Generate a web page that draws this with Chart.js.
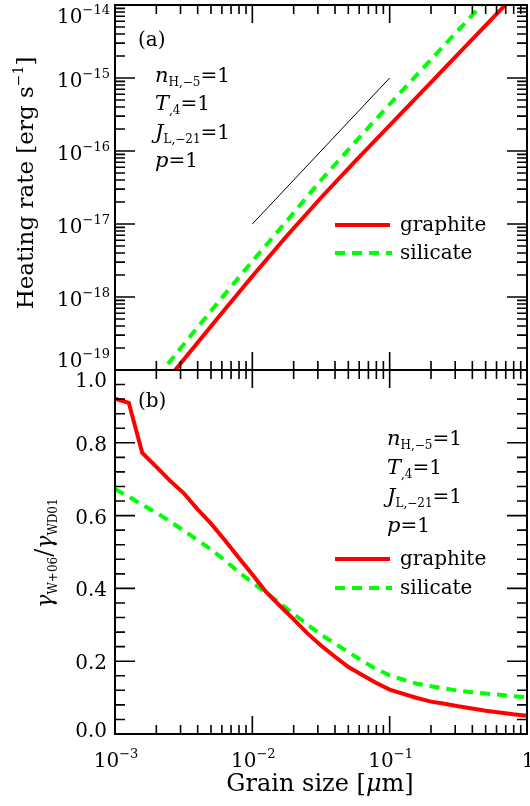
<!DOCTYPE html>
<html>
<head>
<meta charset="utf-8">
<script src="https://cdn.jsdelivr.net/npm/chart.js@4.4.1/dist/chart.umd.min.js"></script>
<style>
  html, body { margin: 0; padding: 0; background: #fff; }
  #wrap { position: relative; width: 530px; height: 806px; }
  #wrap canvas { position: absolute; left: 0; top: 0; }
</style>
</head>
<body>
<div id="wrap">
  <canvas id="panelA" width="530" height="806"></canvas>
  <canvas id="panelB" width="530" height="806"></canvas>
</div>
<script>
// panel (a): heating rate vs grain size [micron]
const sizesA = [0.001, 0.00178, 0.00316, 0.00562, 0.01, 0.0178, 0.0316, 0.0562, 0.1, 0.178, 0.316, 0.562, 1];
const heatGraphite = [9.55e-21, 3.72e-20, 1.38e-19, 5.19e-19, 1.93e-18, 6.84e-18, 2.29e-17, 7.24e-17,
  2.24e-16, 6.92e-16, 2.14e-15, 6.61e-15, 2.04e-14];
const heatSilicate = [1.48e-20, 5.82e-20, 2.24e-19, 8.41e-19, 3.09e-18, 1.10e-17, 3.98e-17, 1.33e-16,
  4.37e-16, 1.41e-15, 4.52e-15, 1.45e-14, 4.62e-14];
// thin a^2 guide line
const guideSizes = [0.01, 0.1];
const guideHeat = [1e-17, 1e-15];

// panel (b): gamma_W+06 / gamma_WD01
const sizesB = [0.001, 0.00126, 0.00158, 0.002, 0.00251, 0.00316, 0.00398, 0.00501, 0.00631, 0.00794,
  0.01, 0.0126, 0.0158, 0.02, 0.0251, 0.0316, 0.0398, 0.0501, 0.0631, 0.0794,
  0.1, 0.126, 0.158, 0.2, 0.251, 0.316, 0.398, 0.501, 0.631, 0.794, 1];
const ratioGraphite = [0.921, 0.910, 0.772, 0.734, 0.696, 0.662, 0.618, 0.578, 0.532, 0.485,
  0.438, 0.390, 0.353, 0.315, 0.277, 0.243, 0.213, 0.184, 0.162, 0.141,
  0.122, 0.110, 0.099, 0.089, 0.083, 0.076, 0.070, 0.064, 0.059, 0.054, 0.050];
const ratioSilicate = [0.673, 0.652, 0.630, 0.608, 0.584, 0.559, 0.533, 0.507, 0.477, 0.445,
  0.416, 0.388, 0.360, 0.330, 0.301, 0.273, 0.249, 0.225, 0.201, 0.179,
  0.161, 0.149, 0.138, 0.131, 0.125, 0.119, 0.115, 0.111, 0.108, 0.104, 0.101];

// ticks
const xDecades = [0.001, 0.01, 0.1, 1];
const xExps = [-3, -2, -1, 0];
const heatDecades = [1e-19, 1e-18, 1e-17, 1e-16, 1e-15, 1e-14];
const heatExps = [-19, -18, -17, -16, -15, -14];
const ratioMajor = [0, 0.2, 0.4, 0.6, 0.8, 1.0];
const ratioLabels = ['0.0', '0.2', '0.4', '0.6', '0.8', '1.0'];
const ratioMinor = [0.04, 0.08, 0.12, 0.16, 0.24, 0.28, 0.32, 0.36, 0.44, 0.48, 0.52, 0.56,
  0.64, 0.68, 0.72, 0.76, 0.84, 0.88, 0.92, 0.96];

const RED = '#ff0000';
const GREEN = '#00ff00';
const DASH = [10, 7];
const SERIF = '"DejaVu Serif", "Liberation Serif", serif';

const minorsOf = decades => decades.slice(0, -1).flatMap(d => [2, 3, 4, 5, 6, 7, 8, 9].map(m => m * d));

// text runs with sub/superscripts: parts = [{t, s, i, dy}]
function runWidth(ctx, parts) {
  let w = 0;
  parts.forEach(p => {
    ctx.font = (p.i ? 'italic ' : '') + p.s + 'px ' + SERIF;
    w += ctx.measureText(p.t).width;
  });
  return w;
}
function drawRun(ctx, parts, x, y) {
  ctx.textAlign = 'left';
  ctx.textBaseline = 'alphabetic';
  parts.forEach(p => {
    ctx.font = (p.i ? 'italic ' : '') + p.s + 'px ' + SERIF;
    ctx.fillText(p.t, x, y + (p.dy || 0));
    x += ctx.measureText(p.t).width;
  });
}
const pow10 = e => e === 0 ? [{ t: '1', s: 20 }] : [{ t: '10', s: 20 }, { t: '\u2212' + Math.abs(e), s: 13, dy: -9 }];

function tickLines(ctx, a, x, y, xMaj, xMin, yMaj, yMin) {
  ctx.strokeStyle = '#000';
  ctx.lineWidth = 1.6;
  ctx.beginPath();
  const xt = (v, len) => {
    const px = x.getPixelForValue(v);
    ctx.moveTo(px, a.top); ctx.lineTo(px, a.top + len);
    ctx.moveTo(px, a.bottom); ctx.lineTo(px, a.bottom - len);
  };
  const yt = (v, len) => {
    const py = y.getPixelForValue(v);
    ctx.moveTo(a.left, py); ctx.lineTo(a.left + len, py);
    ctx.moveTo(a.right, py); ctx.lineTo(a.right - len, py);
  };
  xMaj.forEach(v => xt(v, 18));
  xMin.forEach(v => xt(v, 9));
  yMaj.forEach(v => yt(v, 20));
  yMin.forEach(v => yt(v, 10));
  ctx.stroke();
  ctx.lineWidth = 2;
  ctx.strokeRect(a.left, a.top, a.right - a.left, a.bottom - a.top);
}

function notes(ctx, x, y0, step) {
  const lines = [
    [{ t: 'n', s: 21, i: true }, { t: 'H,\u22125', s: 12, dy: 4 }, { t: '=1', s: 20 }],
    [{ t: 'T', s: 21, i: true }, { t: ',4', s: 12, dy: 4 }, { t: '=1', s: 20 }],
    [{ t: 'J', s: 21, i: true }, { t: 'L,\u221221', s: 12, dy: 4 }, { t: '=1', s: 20 }],
    [{ t: 'p', s: 21, i: true }, { t: '=1', s: 20 }]
  ];
  lines.forEach((l, i) => drawRun(ctx, l, x, y0 + i * step));
}

function legend(ctx, y1, y2) {
  ctx.lineWidth = 4;
  ctx.strokeStyle = RED;
  ctx.setLineDash([]);
  ctx.beginPath(); ctx.moveTo(335, y1); ctx.lineTo(390, y1); ctx.stroke();
  ctx.strokeStyle = GREEN;
  ctx.setLineDash(DASH);
  ctx.beginPath(); ctx.moveTo(335, y2); ctx.lineTo(392, y2); ctx.stroke();
  ctx.setLineDash([]);
  drawRun(ctx, [{ t: 'graphite', s: 20 }], 400, y1 + 6);
  drawRun(ctx, [{ t: 'silicate', s: 20 }], 400, y2 + 6);
}

const decorA = {
  id: 'decorA',
  afterDraw(chart) {
    const { ctx, chartArea: a, scales: { x, y } } = chart;
    ctx.save();
    ctx.fillStyle = '#000';
    tickLines(ctx, a, x, y, xDecades, minorsOf(xDecades), heatDecades, minorsOf(heatDecades));
    // y tick labels
    heatDecades.forEach((v, i) => {
      const parts = pow10(heatExps[i]);
      const py = Math.min(Math.max(y.getPixelForValue(v) + 9, 23), 367);
      drawRun(ctx, parts, 110 - runWidth(ctx, parts), py);
    });
    // y title
    const title = [{ t: 'Heating rate [erg s', s: 23 }, { t: '\u22121', s: 14, dy: -10 }, { t: ']', s: 23 }];
    ctx.translate(33, 183);
    ctx.rotate(-Math.PI / 2);
    drawRun(ctx, title, -runWidth(ctx, title) / 2, 0);
    ctx.setTransform(1, 0, 0, 1, 0, 0);
    drawRun(ctx, [{ t: '(a)', s: 20 }], 138, 46);
    notes(ctx, 155, 82, 28.3);
    legend(ctx, 225, 253);
    ctx.restore();
  }
};

const decorB = {
  id: 'decorB',
  afterDraw(chart) {
    const { ctx, chartArea: a, scales: { x, y } } = chart;
    ctx.save();
    ctx.fillStyle = '#000';
    tickLines(ctx, a, x, y, xDecades, minorsOf(xDecades), ratioMajor, ratioMinor);
    ratioMajor.forEach((v, i) => {
      const py = Math.min(Math.max(y.getPixelForValue(v) + 8, 387), 737);
      const parts = [{ t: ratioLabels[i], s: 20 }];
      drawRun(ctx, parts, 107 - runWidth(ctx, parts), py);
    });
    xDecades.forEach((v, i) => {
      const parts = pow10(xExps[i]);
      drawRun(ctx, parts, x.getPixelForValue(v) - runWidth(ctx, parts) / 2 + 1, 767);
    });
    const xt = [{ t: 'Grain size [', s: 24 }, { t: '\u03bc', s: 24, i: true }, { t: 'm]', s: 24 }];
    drawRun(ctx, xt, 320 - runWidth(ctx, xt) / 2, 791);
    const yt = [{ t: '\u03b3', s: 22, i: true }, { t: 'W+06', s: 12, dy: 5 }, { t: '/', s: 24 },
      { t: '\u03b3', s: 22, i: true }, { t: 'WD01', s: 12, dy: 5 }];
    ctx.translate(52, 553);
    ctx.rotate(-Math.PI / 2);
    drawRun(ctx, yt, -runWidth(ctx, yt) / 2, 0);
    ctx.setTransform(1, 0, 0, 1, 0, 0);
    drawRun(ctx, [{ t: '(b)', s: 20 }], 138, 407);
    notes(ctx, 387, 445, 29);
    legend(ctx, 559, 588);
    ctx.restore();
  }
};

const line = (xs, ys, color, width, dash) => ({
  data: xs.map((v, i) => ({ x: v, y: ys[i] })),
  showLine: true,
  borderColor: color,
  borderWidth: width,
  borderDash: dash || [],
  pointRadius: 0,
  tension: 0
});

const baseOptions = (pad, yScale) => ({
  responsive: false,
  animation: false,
  events: [],
  layout: { padding: pad },
  plugins: { legend: { display: false }, tooltip: { enabled: false } },
  scales: {
    x: { type: 'logarithmic', min: 0.001, max: 1, display: false },
    y: yScale
  }
});

new Chart(document.getElementById('panelA'), {
  type: 'scatter',
  data: {
    datasets: [
      line(sizesA, heatGraphite, RED, 4),
      line(sizesA, heatSilicate, GREEN, 4, DASH),
      line(guideSizes, guideHeat, '#000', 1)
    ]
  },
  options: baseOptions({ left: 115, right: 3, top: 5, bottom: 436 },
    { type: 'logarithmic', min: 1e-19, max: 1e-14, display: false }),
  plugins: [decorA]
});

new Chart(document.getElementById('panelB'), {
  type: 'scatter',
  data: {
    datasets: [
      line(sizesB, ratioGraphite, RED, 4),
      line(sizesB, ratioSilicate, GREEN, 4, DASH)
    ]
  },
  options: baseOptions({ left: 115, right: 3, top: 370, bottom: 72 },
    { type: 'linear', min: 0, max: 1, display: false }),
  plugins: [decorB]
});
</script>
</body>
</html>
